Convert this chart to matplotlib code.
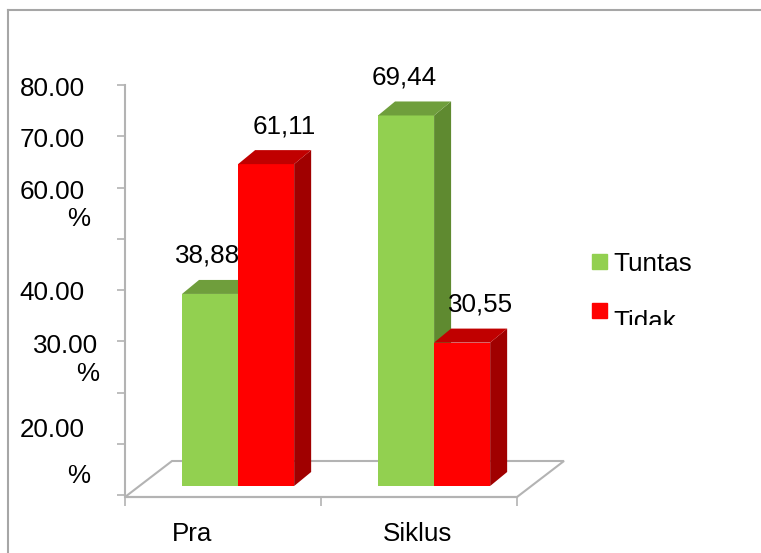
import numpy as np
import matplotlib.pyplot as plt
from matplotlib.patches import Polygon, Rectangle
from matplotlib.lines import Line2D

plt.rcParams['font.family'] = ['Liberation Sans', 'DejaVu Sans']

categories = ['Pra', 'Siklus']
tuntas = [38.88, 69.44]
tidak = [61.11, 30.55]
tuntas_text = ['38,88', '69,44']
tidak_text = ['61,11', '30,55']
series_names = ['Tuntas', 'Tidak']
y_ticks = [0, 10, 20, 30, 40, 50, 60, 70, 80]
# tick texts as they appear (excel wrapped some of them)
y_texts = [('80.00', 85, 96), ('70.00', 85, 147), ('60.00', 85, 199), ('%', 90, 226),
           ('40.00', 85, 300), ('30.00', 98, 353), ('%', 99, 381),
           ('20.00', 85, 437), ('%', 90, 483)]

W, H = 761, 553
fs = 18.7
green, green_side, green_top = '#92d050', '#5f8a30', '#6f9e3c'
red, red_side, red_top = '#ff0000', '#a00000', '#c00000'
grey = '#b3b3b3'

fig = plt.figure(figsize=(W / 100, H / 100), dpi=100)

def fx(p):
    return p / W

def fy(p):
    return 1 - p / H

# outer frame
fig.add_artist(Line2D([fx(8), fx(8)], [fy(10), 0], color='#a6a6a6', lw=1.5))
fig.add_artist(Line2D([fx(8), 1], [fy(10), fy(10)], color='#a6a6a6', lw=1.5))

# value axis (drawn separately, excel's 3d scale is not the bar scale)
ax_y = fig.add_axes([fx(125), fy(495), 392 / W, 410 / H])
ax_y.patch.set_visible(False)
ax_y.set_ylim(0, 80)
for s in ['top', 'right', 'bottom']:
    ax_y.spines[s].set_visible(False)
ax_y.spines['left'].set_color(grey)
ax_y.spines['left'].set_linewidth(1.5)
ax_y.set_yticks(y_ticks)
ax_y.set_yticklabels([])
ax_y.set_xticks([])
ax_y.tick_params(axis='y', length=6, width=1.2, color=grey)
for t, xr, yb in y_texts:
    fig.text(fx(xr), fy(yb), t, ha='right', va='baseline', fontsize=fs)

# bars
px_per_unit = 5.84
ax_b = fig.add_axes([fx(125), fy(521), 392 / W, 80 * px_per_unit / H])
ax_b.patch.set_visible(False)
ax_b.set_xlim(0, 2)
ax_b.set_ylim(0, 80)
for s in ['top', 'left', 'right']:
    ax_b.spines[s].set_visible(False)
floor_front = 24 / px_per_unit
floor_back = 60 / px_per_unit
base = 35 / px_per_unit
floor_dx = 47 / 196
ax_b.spines['bottom'].set_position(('data', floor_front))
ax_b.spines['bottom'].set_color(grey)
ax_b.spines['bottom'].set_linewidth(1.5)
ax_b.set_xticks([0, 1, 2])
ax_b.set_xticklabels([])
ax_b.set_yticks([])
ax_b.tick_params(axis='x', length=6.5, width=1.2, color=grey)
ax_b.add_patch(Polygon([(0, floor_front), (2, floor_front), (2 + floor_dx, floor_back),
                        (floor_dx, floor_back)], closed=True, fill=False,
                       edgecolor=grey, lw=1.5, clip_on=False, zorder=1))

x = np.arange(len(categories))
w = 0.286
dx, dy = 17 / 196, 14 / px_per_unit


def bars3d(pos, vals, front, side, top, z):
    rects = ax_b.bar(pos, np.array(vals) - base, bottom=base, width=w, color=front,
                     linewidth=0, zorder=z)
    for r in rects:
        x0, x1 = r.get_x(), r.get_x() + r.get_width()
        y0, y1 = r.get_y(), r.get_y() + r.get_height()
        ax_b.add_patch(Polygon([(x1, y0), (x1 + dx, y0 + dy), (x1 + dx, y1 + dy), (x1, y1)],
                               color=side, lw=0, zorder=z))
        ax_b.add_patch(Polygon([(x0, y1), (x0 + dx, y1 + dy), (x1 + dx, y1 + dy), (x1, y1)],
                               color=top, lw=0, zorder=z))
    return rects


bars3d(x + 0.434, tuntas, green, green_side, green_top, 2)
bars3d(x + 0.72, tidak, red, red_side, red_top, 3)

for i in range(len(categories)):
    ax_b.annotate(tuntas_text[i], (x[i] + 0.434, tuntas[i]), xytext=(-1.5, 22.3),
                  textcoords='offset points', ha='center', va='baseline', fontsize=fs, zorder=5)
    ax_b.annotate(tidak_text[i], (x[i] + 0.72, tidak[i]), xytext=(13, 22.3),
                  textcoords='offset points', ha='center', va='baseline', fontsize=fs, zorder=5)

label_shift = [0.342, 0.49]
for i, c in enumerate(categories):
    ax_b.text(x[i] + label_shift[i], -20 / px_per_unit, c, ha='center', va='baseline',
              fontsize=fs, clip_on=False)

# legend, the second entry is cut off like in the original
ax_l = fig.add_axes([fx(585), fy(325), 176 / W, 85 / H])
ax_l.axis('off')
ax_l.set_xlim(585, 761)
ax_l.set_ylim(325, 240)
for name, col, yy, yb in zip(series_names, [green, red], [254, 303], [271, 329]):
    ax_l.add_patch(Rectangle((592, yy), 15, 15, color=col))
    t = ax_l.text(613, yb, name, ha='left', va='baseline', fontsize=fs)
    t.set_clip_box(ax_l.bbox)
    t.set_clip_on(True)

fig.savefig('out.png', dpi=100)
